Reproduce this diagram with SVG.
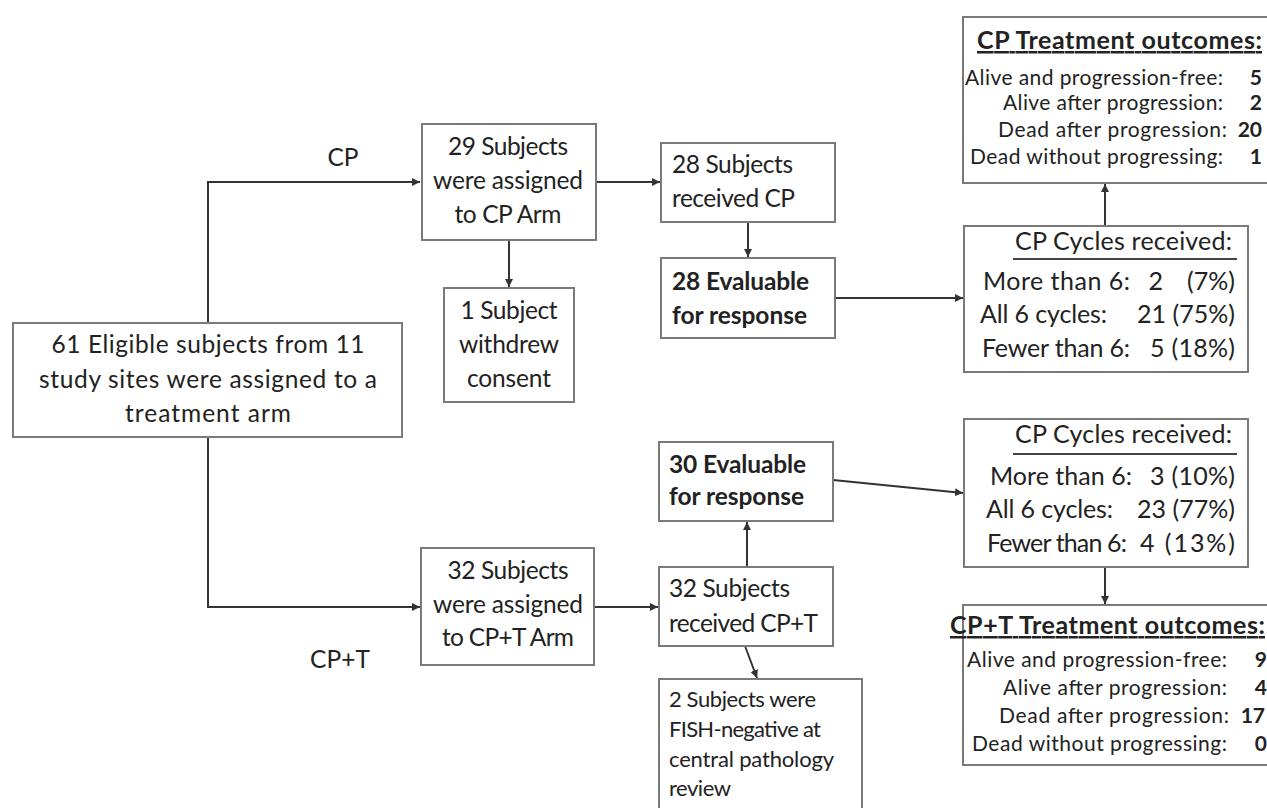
<svg xmlns="http://www.w3.org/2000/svg" width="1267" height="808" viewBox="0 0 1267 808">
<style>
.box{fill:#fff;stroke:#7a7a7a;stroke-width:2}
.t{font-family:Lato,"Open Sans","Liberation Sans",sans-serif;fill:#222;font-size:24.5px}
.s{font-size:22px}
.y{font-size:25px}
.o{font-size:21px}
.h{font-size:25px}
.b{font-weight:bold}
.c{text-anchor:middle}
.r{text-anchor:end}
.ln{fill:none;stroke:#333;stroke-width:2}
.ul{stroke:#444;stroke-width:2}
</style>
<defs>
<marker id="ah" viewBox="0 0 10 10" refX="10" refY="5" markerWidth="8" markerHeight="8" markerUnits="userSpaceOnUse" orient="auto">
<path d="M0,0 L10,5 L0,10 z" fill="#333"/>
</marker>
</defs>
<g id="connectors">
<path class="ln" d="M208,323 V182 H420" marker-end="url(#ah)"/>
<path class="ln" d="M208,437 V607 H420" marker-end="url(#ah)"/>
<path class="ln" d="M596,182 H660" marker-end="url(#ah)"/>
<path class="ln" d="M509,240 V287" marker-end="url(#ah)"/>
<path class="ln" d="M748,222 V257" marker-end="url(#ah)"/>
<path class="ln" d="M835,298 H963" marker-end="url(#ah)"/>
<path class="ln" d="M1105,226 V184" marker-end="url(#ah)"/>
<path class="ln" d="M594,607 H658" marker-end="url(#ah)"/>
<path class="ln" d="M747,567 V522" marker-end="url(#ah)"/>
<path class="ln" d="M833,480 L963,493" marker-end="url(#ah)"/>
<path class="ln" d="M745,646 L757,678" marker-end="url(#ah)"/>
<path class="ln" d="M1105,567 V604" marker-end="url(#ah)"/>
</g>
<g id="labels">
<text class="t c" x="343" y="166">CP</text>
<text class="t c" x="340" y="668">CP+T</text>
</g>
<g id="eligible">
<rect class="box" x="13" y="323" width="389" height="114"/>
<text class="t c" x="208" y="353" textLength="313">61 Eligible subjects from 11</text>
<text class="t c" x="208" y="388" textLength="338">study sites were assigned to a</text>
<text class="t c" x="208" y="422" textLength="166">treatment arm</text>
</g>
<g id="cp-arm">
<rect class="box" x="422" y="124" width="174" height="116"/>
<text class="t c" x="508" y="155" textLength="120">29 Subjects</text>
<text class="t c" x="508" y="189" textLength="150">were assigned</text>
<text class="t c" x="508" y="223" textLength="107">to CP Arm</text>
</g>
<g id="withdrew">
<rect class="box" x="444" y="288" width="130" height="114"/>
<text class="t c" x="509" y="319" textLength="97">1 Subject</text>
<text class="t c" x="509" y="353" textLength="100">withdrew</text>
<text class="t c" x="509" y="387" textLength="84">consent</text>
</g>
<g id="received-cp">
<rect class="box" x="661" y="143" width="174" height="79"/>
<text class="t" x="672" y="173" textLength="121">28 Subjects</text>
<text class="t" x="672" y="207" textLength="123">received CP</text>
</g>
<g id="eval-cp">
<rect class="box" x="661" y="258" width="174" height="80"/>
<text class="t b" x="672" y="290" textLength="137">28 Evaluable</text>
<text class="t b" x="672" y="324" textLength="135">for response</text>
</g>
<g id="cycles-cp">
<rect class="box" x="964" y="226" width="284" height="146"/>
<text class="t y r" x="1232" y="250" textLength="217">CP Cycles received:</text>
<line class="ul" x1="1013" y1="259" x2="1237" y2="259"/>
<text class="t y" x="983" y="290" textLength="147">More than 6:</text>
<text class="t y r" x="1163" y="290">2</text>
<text class="t y r" x="1235" y="290" textLength="48">(7%)</text>
<text class="t y" x="980" y="323" textLength="127">All 6 cycles:</text>
<text class="t y r" x="1235" y="323" textLength="98">21 (75%)</text>
<text class="t y" x="982" y="357" textLength="148">Fewer than 6:</text>
<text class="t y r" x="1235" y="357" textLength="85">5 (18%)</text>
</g>
<g id="outcomes-cp">
<rect class="box" x="963" y="17" width="320" height="166"/>
<text class="t h b r" x="1262" y="49" text-decoration="underline" textLength="285">CP Treatment outcomes:</text>
<text class="t o r" x="1223" y="85" textLength="258">Alive and progression-free:</text>
<text class="t o b r" x="1262" y="85">5</text>
<text class="t o r" x="1223" y="110" textLength="220">Alive after progression:</text>
<text class="t o b r" x="1262" y="110">2</text>
<text class="t o r" x="1227" y="137" textLength="229">Dead after progression:</text>
<text class="t o b r" x="1262" y="137">20</text>
<text class="t o r" x="1223" y="164" textLength="253">Dead without progressing:</text>
<text class="t o b r" x="1262" y="164">1</text>
</g>
<g id="cpt-arm">
<rect class="box" x="421" y="548" width="173" height="117"/>
<text class="t c" x="508" y="579" textLength="121">32 Subjects</text>
<text class="t c" x="508" y="613" textLength="150">were assigned</text>
<text class="t c" x="508" y="646" textLength="132">to CP+T Arm</text>
</g>
<g id="received-cpt">
<rect class="box" x="659" y="567" width="174" height="79"/>
<text class="t" x="669" y="597" textLength="121">32 Subjects</text>
<text class="t" x="669" y="632" textLength="149">received CP+T</text>
</g>
<g id="eval-cpt">
<rect class="box" x="659" y="442" width="174" height="79"/>
<text class="t b" x="669" y="473" textLength="137">30 Evaluable</text>
<text class="t b" x="669" y="505" textLength="135">for response</text>
</g>
<g id="fish">
<rect class="box" x="659" y="679" width="203" height="140"/>
<text class="t s" x="669" y="707" textLength="147">2 Subjects were</text>
<text class="t s" x="669" y="737" textLength="152">FISH-negative at</text>
<text class="t s" x="669" y="767" textLength="165">central pathology</text>
<text class="t s" x="669" y="796" textLength="62">review</text>
</g>
<g id="cycles-cpt">
<rect class="box" x="964" y="419" width="284" height="148"/>
<text class="t y r" x="1232" y="443" textLength="217">CP Cycles received:</text>
<line class="ul" x1="1013" y1="454" x2="1237" y2="454"/>
<text class="t y" x="990" y="485" textLength="142">More than 6:</text>
<text class="t y r" x="1235" y="485" textLength="85">3 (10%)</text>
<text class="t y" x="986" y="518" textLength="127">All 6 cycles:</text>
<text class="t y r" x="1235" y="518" textLength="98">23 (77%)</text>
<text class="t y" x="987" y="552" textLength="140">Fewer than 6:</text>
<text class="t y r" x="1235" y="552" textLength="95">4 (13%)</text>
</g>
<g id="outcomes-cpt">
<rect class="box" x="963" y="605" width="320" height="160"/>
<text class="t h b r" x="1265" y="634" text-decoration="underline" textLength="315">CP+T Treatment outcomes:</text>
<text class="t o r" x="1227" y="667" textLength="260">Alive and progression-free:</text>
<text class="t o b r" x="1267" y="667">9</text>
<text class="t o r" x="1227" y="695" textLength="224">Alive after progression:</text>
<text class="t o b r" x="1267" y="695">4</text>
<text class="t o r" x="1229" y="723" textLength="230">Dead after progression:</text>
<text class="t o b r" x="1265" y="723">17</text>
<text class="t o r" x="1227" y="751" textLength="255">Dead without progressing:</text>
<text class="t o b r" x="1267" y="751">0</text>
</g>
</svg>
